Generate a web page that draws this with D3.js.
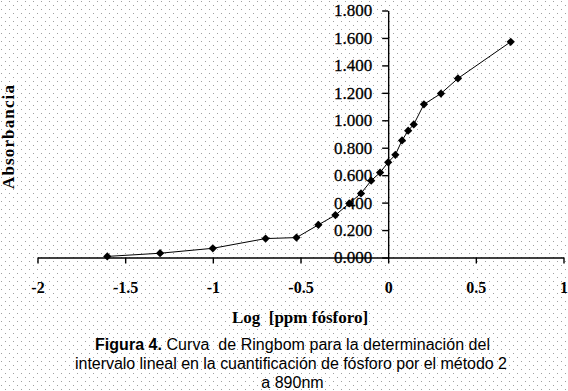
<!DOCTYPE html>
<html>
<head>
<meta charset="utf-8">
<script src="https://cdn.jsdelivr.net/npm/d3@7"></script>
<style>
html,body{margin:0;padding:0;background:#fff;}
svg{display:block;}
</style>
</head>
<body>
<script>
const logConc = [-1.602, -1.301, -1.0, -0.699, -0.523, -0.398, -0.301, -0.222, -0.155, -0.097, -0.046, 0.0, 0.041, 0.079, 0.114, 0.146, 0.204, 0.301, 0.398, 0.699];
const absorb  = [0.008, 0.031, 0.067, 0.138, 0.145, 0.238, 0.309, 0.394, 0.467, 0.560, 0.619, 0.694, 0.748, 0.853, 0.924, 0.970, 1.116, 1.195, 1.305, 1.572];
const xTicks = [-2, -1.5, -1, -0.5, 0, 0.5, 1];
const yTicks = [0, 0.2, 0.4, 0.6, 0.8, 1.0, 1.2, 1.4, 1.6, 1.8];
const xTitle = "Log  [ppm fósforo]";
const yTitle = "Absorbancia";
const captionBold = "Figura 4.";
const captionLines = [" Curva  de Ringbom para la determinación del",
  "intervalo lineal en la cuantificación de fósforo por el método 2",
  "a 890nm"];

const W = 568, H = 391;
const svg = d3.select("body").append("svg").attr("width", W).attr("height", H);

// dotted background
svg.append("rect").attr("width",W).attr("height",H).attr("fill","#fff");
const dotG = svg.append("g").attr("fill","#a0a0a0").attr("shape-rendering","crispEdges");
for (let yy = 1; yy < H; yy += 4) {
  const off = ((yy - 1) / 4) % 2 === 0 ? 1 : 5;
  for (let xx = off; xx < W; xx += 8) {
    dotG.append("rect").attr("x",xx).attr("y",yy).attr("width",1).attr("height",1);
  }
}

const x = d3.scaleLinear().domain([-2, 1]).range([37.5, 563.5]);
const y = d3.scaleLinear().domain([0, 1.8]).range([257.5, 10.5]);

// x axis
const xAxis = svg.append("g").attr("transform", `translate(0,${y(0)})`)
  .call(d3.axisBottom(x).tickValues(xTicks).tickSize(6).tickSizeOuter(0).tickPadding(18)
        .tickFormat(d => String(d)));
xAxis.select(".domain").attr("stroke","#000").attr("stroke-width",1.4);
xAxis.selectAll(".tick line").attr("stroke","#000").attr("stroke-width",1.4);
xAxis.selectAll("text").attr("font-family","'Liberation Serif','Times New Roman',serif")
  .attr("font-size",16).attr("font-weight","bold").attr("fill","#000");

// y axis
const yAxis = svg.append("g").attr("transform", `translate(${x(0)},0)`)
  .call(d3.axisLeft(y).tickValues(yTicks).tickSize(6).tickSizeOuter(0).tickPadding(10)
        .tickFormat(d3.format(",.3f")));
yAxis.select(".domain").attr("stroke","#000").attr("stroke-width",1.4);
yAxis.selectAll(".tick line").attr("stroke","#000").attr("stroke-width",1.4);
yAxis.selectAll("text").attr("font-family","'Liberation Serif','Times New Roman',serif")
  .attr("font-size",17).attr("fill","#000").attr("stroke","#000").attr("stroke-width",0.3);

// line
const data = logConc.map((v,i)=>({x:v, y:absorb[i]}));
svg.append("path").datum(data)
  .attr("fill","none").attr("stroke","#000").attr("stroke-width",1)
  .attr("d", d3.line().x(d=>x(d.x)).y(d=>y(d.y)));

// markers
svg.selectAll(".mk").data(data).enter().append("path")
  .attr("class","mk")
  .attr("d", d3.symbol(d3.symbolSquare, 34)())
  .attr("transform", d=>`translate(${x(d.x)},${y(d.y)}) rotate(45)`)
  .attr("fill","#000");

// titles
svg.append("text").attr("x", 300).attr("y", 323).attr("text-anchor","middle")
  .attr("font-family","'Liberation Serif','Times New Roman',serif").attr("font-weight","bold")
  .attr("font-size",17).attr("fill","#000").attr("xml:space","preserve").text(xTitle);

svg.append("text").attr("transform","translate(14,137) rotate(-90)").attr("text-anchor","middle")
  .attr("font-family","'Liberation Serif','Times New Roman',serif").attr("font-weight","bold")
  .attr("font-size",17).attr("fill","#000")
  .attr("textLength",104).attr("lengthAdjust","spacing").text(yTitle);

// caption
const cap = svg.append("g").attr("font-family","'Liberation Sans',Arial,sans-serif")
  .attr("font-size",16).attr("fill","#000");
const t1 = cap.append("text").attr("x",292.5).attr("y",350).attr("text-anchor","middle")
  .attr("xml:space","preserve").attr("textLength",395).attr("lengthAdjust","spacing");
t1.append("tspan").attr("font-weight","bold").text(captionBold);
t1.append("tspan").text(captionLines[0]);
cap.append("text").attr("x",291).attr("y",369).attr("text-anchor","middle")
  .attr("textLength",432).attr("lengthAdjust","spacing").text(captionLines[1]);
cap.append("text").attr("x",292.5).attr("y",388).attr("text-anchor","middle").text(captionLines[2]);
</script>
</body>
</html>
